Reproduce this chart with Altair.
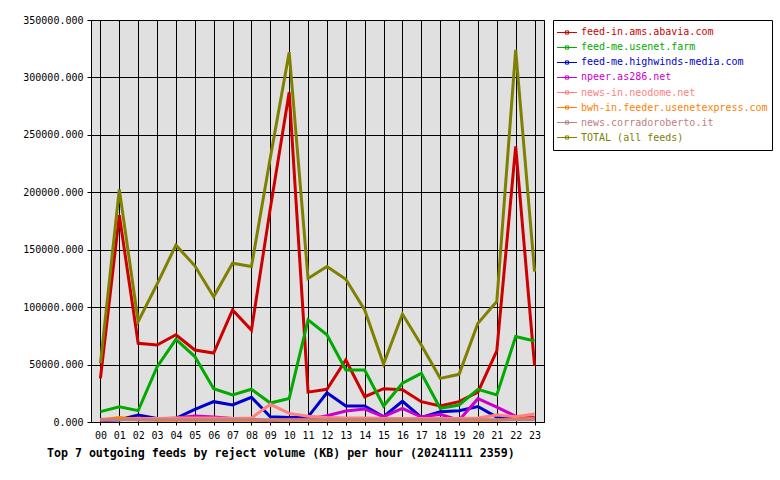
import altair as alt
import pandas as pd

hours = ["00", "01", "02", "03", "04", "05", "06", "07", "08", "09", "10", "11",
         "12", "13", "14", "15", "16", "17", "18", "19", "20", "21", "22", "23"]

feeds = ["feed-in.ams.abavia.com", "feed-me.usenet.farm", "feed-me.highwinds-media.com",
         "npeer.as286.net", "news-in.neodome.net", "bwh-in.feeder.usenetexpress.com",
         "news.corradoroberto.it", "TOTAL (all feeds)"]
colors = ["#cc0000", "#00aa00", "#0000cc", "#cc00cc", "#ff8080", "#ff8000", "#c08080", "#808000"]

abavia = [38000, 180000, 68500, 67000, 76000, 62700, 60000, 97500, 80000, 186000, 287000, 26000,
          28500, 54000, 22000, 29000, 28000, 17700, 14000, 17700, 26000, 62000, 240000, 49000]
usenetfarm = [9000, 13300, 9900, 48000, 72000, 57000, 29000, 23500, 28500, 16500, 20500, 89000,
              76000, 45300, 45300, 13900, 33700, 42400, 11900, 14800, 28400, 23500, 74500, 70500]
highwinds = [1500, 2000, 6000, 3000, 3200, 11000, 17700, 14800, 21500, 4600, 4000, 4500,
             25500, 13900, 14000, 4600, 18000, 4000, 9000, 9800, 13500, 4200, 3500, 3500]
as286 = [1500, 2000, 3500, 2500, 3500, 5200, 4300, 3000, 2500, 800, 2500, 2500,
         5500, 9600, 11300, 4600, 11900, 4300, 6700, 1500, 20300, 13000, 5000, 4000]
neodome = [2500, 3000, 3000, 3000, 3500, 3500, 3500, 3000, 3500, 15400, 7500, 5000,
           4000, 3500, 3500, 3000, 3000, 3000, 3000, 3000, 3500, 6100, 4600, 7000]
usenetexpress = [1500, 3800, 2000, 1500, 1500, 1500, 1500, 1500, 1500, 1500, 1500, 1500,
                 1500, 1500, 1500, 1500, 1500, 1500, 1500, 1500, 1500, 1500, 2500, 3200]
corradoroberto = [2000, 2000, 2000, 2000, 2000, 2000, 2000, 2000, 2000, 2000, 2000, 2000,
                  2000, 2000, 2000, 2000, 2000, 2000, 2000, 2000, 2000, 2000, 2000, 2000]
total = [51000, 202500, 87500, 120000, 154000, 136000, 109000, 138200, 135300, 230000, 322000, 125000,
         135300, 124300, 97500, 50500, 94000, 67000, 38000, 41500, 86000, 105000, 324000, 131000]

y_ticks = [0, 50000, 100000, 150000, 200000, 250000, 300000, 350000]

series = [abavia, usenetfarm, highwinds, as286, neodome, usenetexpress, corradoroberto, total]
rows = []
for i, (name, vals) in enumerate(zip(feeds, series)):
    for h, v in zip(hours, vals):
        rows.append({"feed": name, "hour": h, "value": v, "k": i})
df = pd.DataFrame(rows)

MONO = "DejaVu Sans Mono"
color_scale = alt.Scale(domain=feeds, range=colors)

main = alt.Chart(df).mark_line(strokeWidth=3).encode(
    x=alt.X("hour:O", scale=alt.Scale(type="point", padding=0.5),
            axis=alt.Axis(title=None, labelAngle=0, grid=True, gridColor="black", gridOpacity=1,
                          tickSize=3, labelPadding=5)),
    y=alt.Y("value:Q", scale=alt.Scale(domain=[0, 350000], nice=False),
            axis=alt.Axis(title=None, values=y_ticks, format=".3f", grid=True, gridColor="black",
                          gridOpacity=1, tickSize=4, labelPadding=4)),
    color=alt.Color("feed:N", scale=color_scale, legend=None),
    detail="k:O",
).properties(
    width=453, height=402,
    view=alt.ViewBackground(fill="#e0e0e0", stroke="black"),
    title=alt.TitleParams(
        "Top 7 outgoing feeds by reject volume (KB) per hour (20241111 2359)",
        orient="bottom", anchor="start", frame="group", dx=-44, offset=8,
        font=MONO, fontSize=11.6, fontWeight="bold", color="black"),
)

leg_df = pd.DataFrame({"feed": feeds})
ly = alt.Y("feed:N", scale=alt.Scale(type="point", padding=0.833, domain=feeds), axis=None)
lc = alt.Color("feed:N", scale=color_scale, legend=None)
rule = alt.Chart(leg_df).mark_rule(strokeWidth=1).encode(
    x=alt.value(4), x2=alt.value(24), y=ly, color=lc)
pt = alt.Chart(leg_df).mark_point(shape="square", size=10, filled=False, strokeWidth=1,
                                  opacity=1).encode(x=alt.value(14), y=ly, color=lc)
txt = alt.Chart(leg_df).mark_text(align="left", baseline="middle", font=MONO, fontSize=10).encode(
    x=alt.value(28), y=ly, text="feed:N", color=lc)
legend = alt.layer(rule, pt, txt).properties(
    width=219, height=130,
    view=alt.ViewBackground(fill="white", stroke="black"))

chart = alt.hconcat(main, legend, spacing=9, bounds="flush").properties(
    padding={"left": 22, "top": 14, "right": 5, "bottom": 5},
    background="white",
).configure_axis(
    domainColor="black", tickColor="black", labelColor="black",
    labelFont=MONO, labelFontSize=10, gridWidth=1,
).configure_view(stroke="black")

chart.save("out.html", embed_options={"renderer": "svg", "actions": False})
